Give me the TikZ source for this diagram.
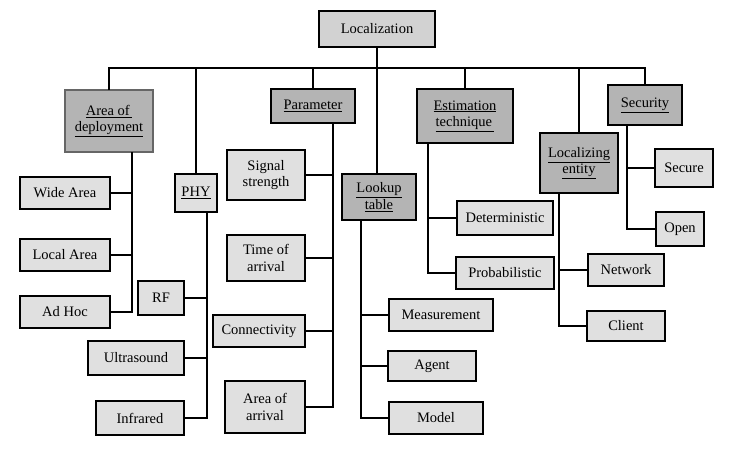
\documentclass[tikz,border=0pt]{standalone}
\usepackage{fontspec}
\setmainfont{Liberation Serif}
\definecolor{leafgray}{HTML}{E0E0E0}
\definecolor{catgray}{HTML}{B4B4B4}
\definecolor{rootgray}{HTML}{D2D2D2}
\begin{document}
\begin{tikzpicture}[x=1pt,y=-1pt,
  box/.style={draw=black,line width=2pt,inner sep=0pt,align=center,
    font=\fontsize{14.5}{16.5}\selectfont},
  leaf/.style={box,fill=leafgray},
  cat/.style={box,fill=catgray},
  rootbox/.style={box,fill=rootgray},
  conn/.style={line width=2pt,line cap=rect}]
\useasboundingbox (0,0) rectangle (732,452);
\fill[white] (0,0) rectangle (732,452);
% root and categories
\node[rootbox,minimum width=116,minimum height=36] (loc) at (377,29) {\raisebox{-1.5pt}{Localization}};
\node[cat,draw=black!60,line width=1.5pt,minimum width=88,minimum height=62] (aod) at (109,121) {\underline{Area of\,}\\\underline{deployment}};
\node[cat,fill=leafgray,minimum width=42,minimum height=38] (phy) at (196,193) {\underline{PHY}};
\node[cat,minimum width=84,minimum height=34] (param) at (313,106) {\underline{Parameter}};
\node[cat,minimum width=74,minimum height=46] (look) at (379,197) {\underline{Lookup}\\\underline{table}};
\node[cat,minimum width=96,minimum height=54] (est) at (465,116) {\underline{Estimation}\\\underline{technique\,}};
\node[cat,minimum width=78,minimum height=60] (ent) at (579,163) {\underline{Localizing}\\\underline{entity}};
\node[cat,minimum width=74,minimum height=40] (sec) at (645,105) {\underline{Security}};
% leaves
\node[leaf,minimum width=90,minimum height=32] (wide) at (65,193) {Wide Area};
\node[leaf,minimum width=90,minimum height=32] (local) at (65,255) {Local Area};
\node[leaf,minimum width=90,minimum height=32] (adhoc) at (65,312) {Ad Hoc};
\node[leaf,minimum width=46,minimum height=34] (rf) at (161,298) {RF};
\node[leaf,minimum width=96,minimum height=34] (ultra) at (136,358) {Ultrasound};
\node[leaf,minimum width=88,minimum height=34] (infra) at (140,418) {Infrared};
\node[leaf,minimum width=78,minimum height=50] (sig) at (266,175) {Signal\\strength};
\node[leaf,minimum width=78,minimum height=46] (toa) at (266,258) {Time of\\arrival};
\node[leaf,minimum width=92,minimum height=32] (con) at (259,331) {Connectivity};
\node[leaf,minimum width=80,minimum height=52] (aoa) at (265,407) {Area of\\arrival};
\node[leaf,minimum width=104,minimum height=32] (meas) at (441,315) {Measurement};
\node[leaf,minimum width=88,minimum height=30] (agent) at (432,366) {Agent};
\node[leaf,minimum width=94,minimum height=32] (model) at (436,418) {Model};
\node[leaf,minimum width=96,minimum height=34] (det) at (505,218) {Deterministic};
\node[leaf,minimum width=98,minimum height=32] (prob) at (505,273) {Probabilistic};
\node[leaf,minimum width=76,minimum height=32] (net) at (626,270) {Network};
\node[leaf,minimum width=78,minimum height=30] (client) at (626,326) {Client};
\node[leaf,minimum width=58,minimum height=38] (secure) at (684,168) {Secure};
\node[leaf,minimum width=48,minimum height=34] (open) at (680,229) {Open};
% trunk and bar
\coordinate (bar) at (0,68);
\draw[conn] (loc.south) -- (loc.south |- look.north);
\draw[conn] (aod.north |- bar) -- (sec.north |- bar);
\foreach \c in {aod,phy,param,est,ent,sec}
  \draw[conn] (\c.north) -- (\c.north |- bar);
% child spines
\coordinate (aodx) at (132,0);
\coordinate (phyx) at (207,0);
\coordinate (parx) at (333,0);
\coordinate (lookx) at (361,0);
\coordinate (estx) at (428,0);
\coordinate (entx) at (559,0);
\coordinate (secx) at (627,0);
\draw[conn] (aod.south -| aodx) |- (adhoc.east);
\draw[conn] (wide.east) -- (wide.east -| aodx);
\draw[conn] (local.east) -- (local.east -| aodx);
\draw[conn] (phy.south -| phyx) |- (infra.east);
\draw[conn] (rf.east) -- (rf.east -| phyx);
\draw[conn] (ultra.east) -- (ultra.east -| phyx);
\draw[conn] (param.south -| parx) |- (aoa.east);
\draw[conn] (sig.east) -- (sig.east -| parx);
\draw[conn] (toa.east) -- (toa.east -| parx);
\draw[conn] (con.east) -- (con.east -| parx);
\draw[conn] (look.south -| lookx) |- (model.west);
\draw[conn] (meas.west) -- (meas.west -| lookx);
\draw[conn] (agent.west) -- (agent.west -| lookx);
\draw[conn] (est.south -| estx) |- (prob.west);
\draw[conn] (det.west) -- (det.west -| estx);
\draw[conn] (ent.south -| entx) |- (client.west);
\draw[conn] (net.west) -- (net.west -| entx);
\draw[conn] (sec.south -| secx) |- (open.west);
\draw[conn] (secure.west) -- (secure.west -| secx);
\end{tikzpicture}
\end{document}
